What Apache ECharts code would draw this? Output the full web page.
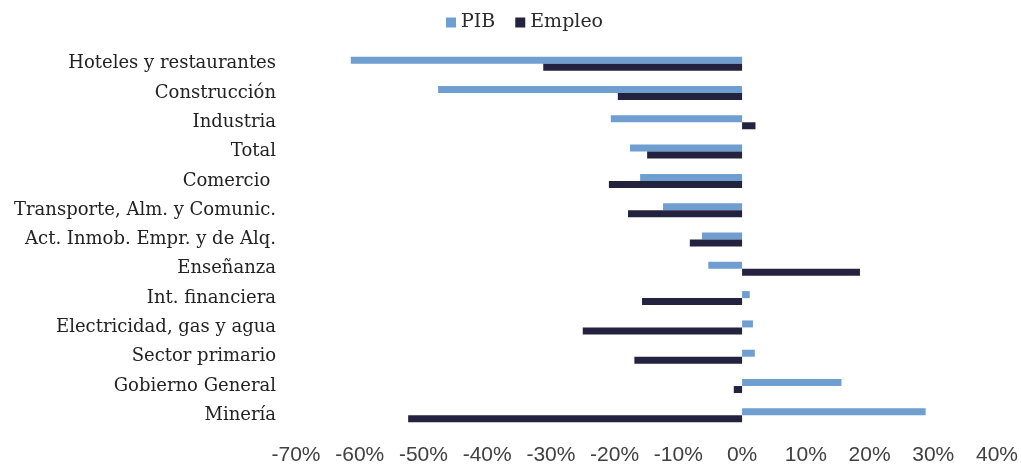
<!DOCTYPE html>
<html><head><meta charset="utf-8">
<script src="https://cdn.jsdelivr.net/npm/echarts@6/dist/echarts.min.js"></script>
<style>html,body{margin:0;padding:0;background:#fff}#c{width:1021px;height:468px}</style>
</head><body><div id="c"></div>
<script>
const categories = ["Hoteles y restaurantes","Construcción","Industria","Total","Comercio ","Transporte, Alm. y Comunic.","Act. Inmob. Empr. y de Alq.","Enseñanza","Int. financiera","Electricidad, gas y agua","Sector primario","Gobierno General","Minería"];
const pib =    [-61.4,-47.7,-20.6,-17.6,-16.0,-12.4,-6.3,-5.3,1.2,1.7,2.0,15.6,28.8];
const empleo = [-31.2,-19.5,2.1,-14.9,-20.9,-17.9,-8.2,18.5,-15.7,-25.0,-16.9,-1.3,-52.4];
const seriesNames = ["PIB","Empleo"];
const chart = echarts.init(document.getElementById('c'));
chart.setOption({
  animation:false,
  legend:{top:8,left:441,icon:'rect',itemWidth:10,itemHeight:10,itemGap:20,
    textStyle:{fontFamily:'DejaVu Serif',fontSize:19,color:'#2a2a2a'},
    data:seriesNames},
  grid:{left:296,right:24,top:49,bottom:38,containLabel:false},
  xAxis:{type:'value',min:-70,max:40,interval:10,
    axisLabel:{formatter:'{value}%',fontFamily:'Liberation Sans',fontSize:21,color:'#404040',margin:15},
    splitLine:{show:false},axisLine:{show:false},axisTick:{show:false}},
  yAxis:{type:'category',data:categories,inverse:true,
    axisLine:{show:false},axisTick:{show:false},
    axisLabel:{fontFamily:'DejaVu Serif',fontSize:18,color:'#222',margin:20}},
  series:[
    {name:seriesNames[0],type:'bar',data:pib,barWidth:7,barGap:'0%',itemStyle:{color:'#6f9fd0'}},
    {name:seriesNames[1],type:'bar',data:empleo,barWidth:7,barGap:'0%',itemStyle:{color:'#23223f'}}
  ]
});
</script></body></html>
